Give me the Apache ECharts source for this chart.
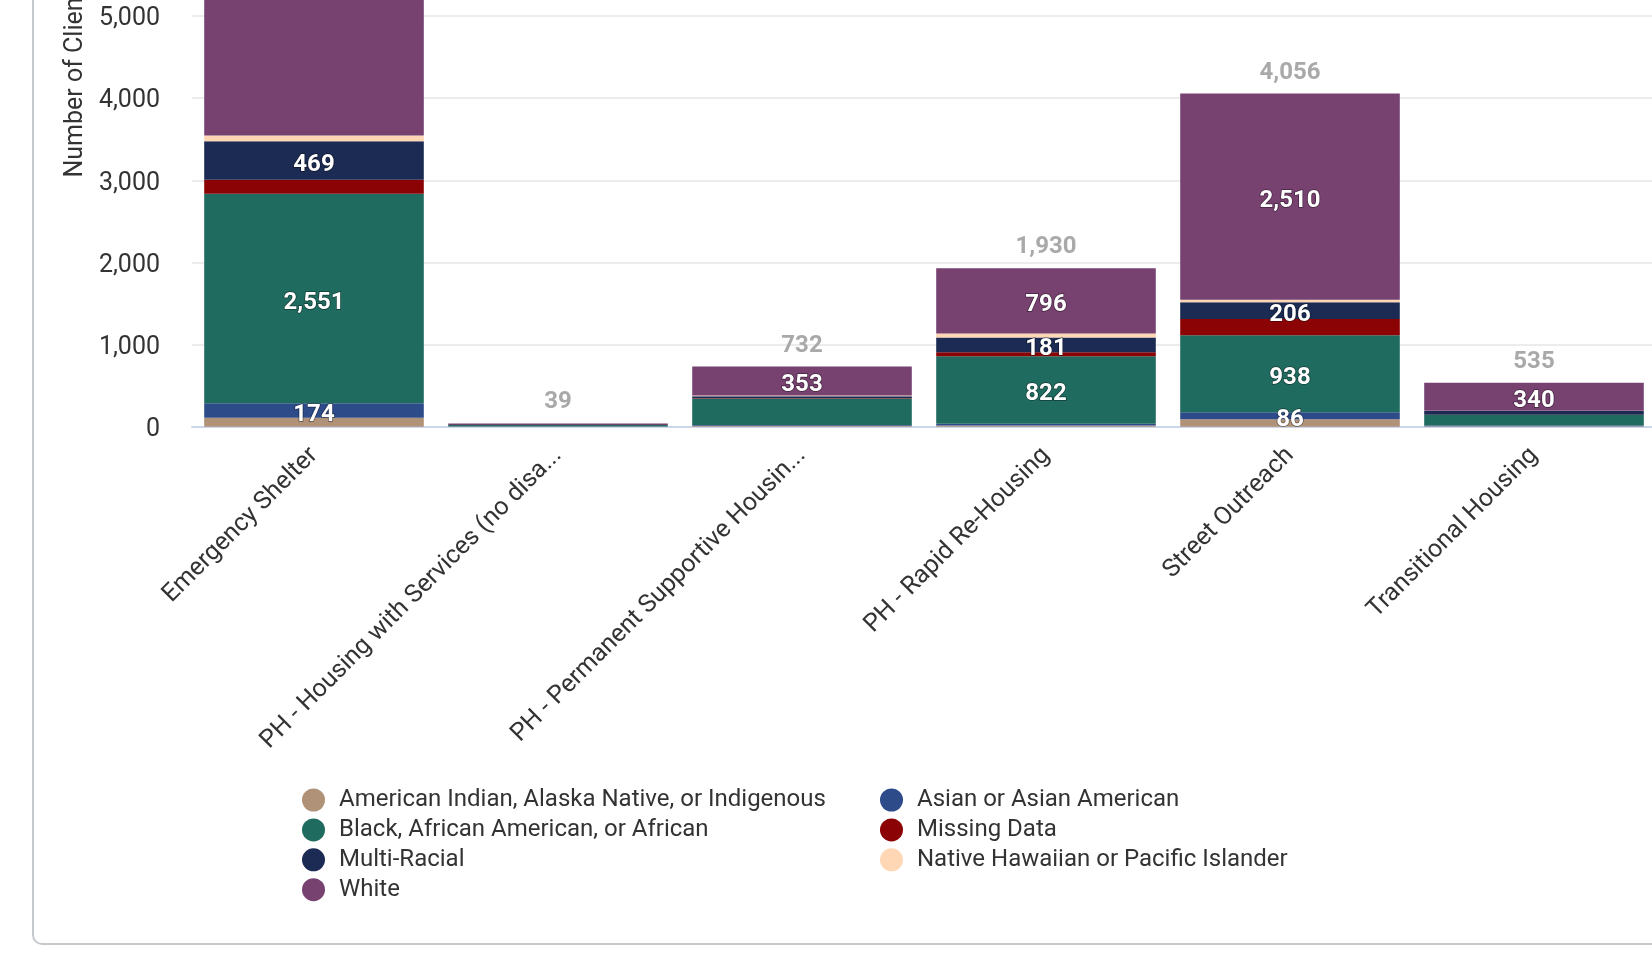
<!DOCTYPE html>
<html>
<head>
<meta charset="utf-8">
<script src="https://cdn.jsdelivr.net/npm/echarts@6/dist/echarts.min.js"></script>
<style>
html, body { margin: 0; padding: 0; background: #fff; overflow: hidden; width: 1652px; height: 956px; position: relative; }
.card { position: absolute; left: 32px; top: -40px; width: 1720px; height: 985px; border: 2px solid #c5c9ce; border-radius: 10px; box-sizing: border-box; }
#chart { position: absolute; left: 0; top: -300px; width: 1700px; height: 1256px; }
</style>
</head>
<body>
<div class="card"></div>
<div id="chart"></div>
<script>
// program types (x axis)
const categories = [
  'Emergency Shelter',
  'PH - Housing with Services (no disability required for entry)',
  'PH - Permanent Supportive Housing (disability required for entry)',
  'PH - Rapid Re-Housing',
  'Street Outreach',
  'Transitional Housing'
];

// race groups, bottom to top of each stack
const raceNames = [
  'American Indian, Alaska Native, or Indigenous',
  'Asian or Asian American',
  'Black, African American, or African',
  'Missing Data',
  'Multi-Racial',
  'Native Hawaiian or Pacific Islander',
  'White'
];
const raceColors = ['#b09279', '#2d4b89', '#206b5f', '#8b0304', '#1c2b53', '#ffd7b5', '#774170'];

const amIndian = [110, 1, 12, 15, 90, 4];
const asian    = [174, 1, 8, 20, 86, 12];
const black    = [2551, 18, 320, 822, 938, 125];
const missing  = [170, 0, 6, 48, 196, 5];
const multi    = [469, 2, 24, 181, 206, 46];
const nhpi     = [70, 0, 9, 48, 30, 3];
const white    = [1950, 17, 353, 796, 2510, 340];

// which bars carry a value label (category indexes)
const labelAmIndian = [];
const labelAsian    = [0, 4];
const labelBlack    = [0, 3, 4];
const labelMissing  = [];
const labelMulti    = [0, 3, 4];
const labelNhpi     = [];
const labelWhite    = [2, 3, 4, 5];

const yTicks = [0, 1000, 2000, 3000, 4000, 5000];

const values = [amIndian, asian, black, missing, multi, nhpi, white];
const labelled = [labelAmIndian, labelAsian, labelBlack, labelMissing, labelMulti, labelNhpi, labelWhite];
const totals = categories.map((c, i) => values.reduce((s, arr) => s + arr[i], 0));

const fmt = v => Number(v).toLocaleString('en-US');

const series = raceNames.map((name, k) => ({
  name: name,
  type: 'bar',
  stack: 'race',
  barCategoryGap: '10%',
  data: values[k],
  itemStyle: { color: raceColors[k] },
  label: {
    show: true,
    position: 'inside',
    offset: [0, 4],
    color: '#fff',
    fontFamily: 'Roboto',
    fontWeight: 'bold',
    fontSize: 24,
    textBorderColor: 'rgba(0,0,0,0.45)',
    textBorderWidth: 1.5,
    formatter: p => labelled[k].includes(p.dataIndex) ? fmt(p.value) : ''
  },
  emphasis: { disabled: true }
}));

// totals on top of each stack
series.push({
  name: 'Total',
  type: 'bar',
  stack: 'race',
  barCategoryGap: '10%',
  data: totals.map(() => 0),
  itemStyle: { color: 'transparent' },
  label: {
    show: true,
    position: 'top',
    distance: 9,
    color: '#a9a9a9',
    fontFamily: 'Roboto',
    fontWeight: 'bold',
    fontSize: 24,
    formatter: p => fmt(totals[p.dataIndex])
  },
  emphasis: { disabled: true }
});

const legendText = { fontFamily: 'Roboto', fontSize: 24, color: '#333', padding: [0, 0, 0, 9] };

const option = {
  animation: false,
  textStyle: { fontFamily: 'Roboto' },
  grid: { left: 192, right: 44, top: 20.3, bottom: 529.3, containLabel: false, outerBoundsMode: 'none' },
  legend: [
    {
      data: [raceNames[0], raceNames[2], raceNames[4], raceNames[6]],
      orient: 'vertical', left: 297, top: 1083,
      icon: 'circle', itemWidth: 23, itemHeight: 23, itemGap: 5.9,
      textStyle: legendText, selectedMode: false
    },
    {
      data: [raceNames[1], raceNames[3], raceNames[5]],
      orient: 'vertical', left: 875, top: 1083,
      icon: 'circle', itemWidth: 23, itemHeight: 23, itemGap: 5.9,
      textStyle: legendText, selectedMode: false
    }
  ],
  xAxis: {
    type: 'category',
    data: categories,
    axisLine: { lineStyle: { color: '#ccd6eb', width: 2 } },
    axisTick: { show: false },
    axisLabel: {
      interval: 0,
      rotate: 45,
      margin: 25,
      fontSize: 25,
      color: '#333',
      width: 419,
      overflow: 'truncate',
      ellipsis: '...'
    }
  },
  yAxis: {
    type: 'value',
    min: yTicks[0],
    max: 8600,
    interval: yTicks[1] - yTicks[0],
    name: 'Number of Clients',
    nameLocation: 'middle',
    nameGap: 104,
    nameTextStyle: { fontSize: 25, color: '#333', padding: [0, 7, 0, 0] },
    axisLine: { show: false },
    axisTick: { show: false },
    axisLabel: {
      margin: 32,
      formatter: v => '{t|' + fmt(v) + '}',
      rich: { t: { fontSize: 25, color: '#333', padding: [6, 0, 0, 0] } }
    },
    splitLine: { lineStyle: { color: '#e6e6e6', width: 1.5 } }
  },
  series: series
};

const chart = echarts.init(document.getElementById('chart'));
chart.setOption(option);
</script>
</body>
</html>
